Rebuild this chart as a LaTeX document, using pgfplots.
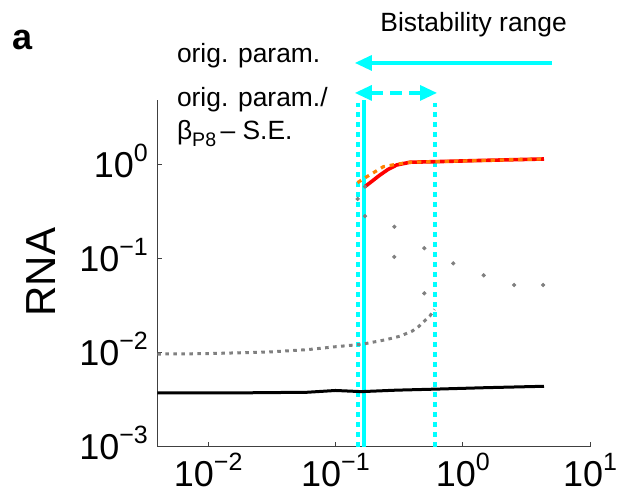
\documentclass[border=0pt]{standalone}
\usepackage{fontspec}
\setmainfont{Liberation Sans}
\usepackage{pgfplots}
\pgfplotsset{compat=1.18}
\usetikzlibrary{arrows.meta}
\definecolor{cyanl}{RGB}{0,255,255}
\definecolor{orangel}{RGB}{255,128,0}
\definecolor{grayl}{RGB}{128,128,128}
\newcommand\sups[1]{\raisebox{8pt}{\fontsize{12.5}{12.5}\selectfont #1}}
\newcommand\dec[1]{10\sups{#1}}

\begin{document}
\begin{tikzpicture}[x=1pt,y=1pt]
\useasboundingbox (0,0) rectangle (312.5,249);
\begin{axis}[
  at={(78.65pt,25.65pt)}, anchor=south west,
  scale only axis, width=216.35pt, height=173.35pt,
  xmode=log, ymode=log,
  xmin=0.003981, xmax=10, ymin=1e-3, ymax=4.92,
  axis x line*=bottom, axis y line*=left,
  axis line style={-, line width=0.5pt, draw=black!75},
  xtick={0.01,0.1,1,10}, xticklabels={\dec{−2},\dec{−1},\dec{0},\dec{1}},
  ytick={0.001,0.01,0.1,1}, yticklabels={\dec{−3},\dec{−2},\dec{−1},\dec{0}},
  xminorticks=false, yminorticks=false,
  tick align=inside, major tick length=2.5pt,
  tick style={line width=0.5pt, black!75},
  ticklabel style={font=\fontsize{18}{18}\selectfont},
  xticklabel style={anchor=north, inner sep=0pt, yshift=-3pt},
  yticklabel style={anchor=base east, inner sep=0pt, xshift=-4.5pt, yshift=-6.45pt},
  clip=false,
]
% bistability bounds
\addplot[cyanl, line width=2.2pt] coordinates {(0.1675,0.001) (0.1675,4.92)};
\addplot[cyanl, line width=2pt, dash pattern=on 2.4pt off 2.6pt] coordinates {(0.149,0.001) (0.149,4.57)};
\addplot[cyanl, line width=2pt, dash pattern=on 2.4pt off 2.6pt] coordinates {(0.603,0.001) (0.603,4.57)};

% low branch, orig. param.
\addplot[black, line width=1.5pt] coordinates {
  (0.00398,0.00375) (0.02,0.00375) (0.06,0.00380) (0.1,0.00397) (0.16,0.00386)
  (0.3,0.00400) (0.6,0.00410) (1.5,0.00425) (4.35,0.00440)
};
% low branch, modified
\addplot[grayl, line width=1.5pt, dash pattern=on 1.8pt off 2.2pt] coordinates {
  (0.00398,0.0097) (0.01,0.0098) (0.03,0.0102) (0.06,0.0108) (0.1,0.0116)
  (0.16,0.0123) (0.25,0.0138) (0.32,0.0150) (0.4,0.0170) (0.45,0.0190)
  (0.5,0.0218) (0.55,0.0245) (0.6,0.0290)
};
% unstable branch samples
\addplot[grayl, only marks, mark=*, mark size=0.85pt, mark options={draw=grayl, fill=grayl}] coordinates {
  (0.1494,0.435) (0.1706,0.286) (0.1706,0.588) (0.290,0.220) (0.290,0.105)
  (0.499,0.130) (0.499,0.043) (0.843,0.0897) (1.46,0.0668) (2.53,0.0527) (4.28,0.0527)
};
% high branch
\addplot[red, line width=1.8pt] coordinates {
  (0.1706,0.588) (0.224,0.783) (0.26,0.90) (0.303,1.0) (0.386,1.07)
  (0.603,1.084) (1.5,1.12) (4.35,1.158)
};
\addplot[orangel, line width=1.6pt, dash pattern=on 2.2pt off 2.4pt] coordinates {
  (0.149,0.648) (0.1706,0.73) (0.238,0.959) (0.303,1.02) (0.386,1.07)
  (0.603,1.084) (1.5,1.12) (4.35,1.158)
};

% bistability range arrows
\draw[cyanl, line width=1.6pt, -{Triangle[length=8.5pt,width=7.5pt]}]
  (axis cs:5.03,12.2) -- (axis cs:0.142,12.2);
\draw[cyanl, line width=1.6pt, dash pattern=on 6pt off 3.5pt,
  {Triangle[length=8.5pt,width=7.5pt]}-{Triangle[length=8.5pt,width=7.5pt]}]
  (axis cs:0.142,5.85) -- (axis cs:0.628,5.85);
\end{axis}

\node[anchor=base west, inner sep=0pt, font=\bfseries\fontsize{18}{18}\selectfont] at (6,224) {a};
\node[rotate=90, inner sep=0pt, font=\fontsize{21}{21}\selectfont] at (20.5,113) {RNA};
\begin{scope}[every node/.style={anchor=base west, inner sep=0pt, font=\fontsize{13.2}{13.2}\selectfont}]
\node at (190,233) {Bistability range};
\node at (88.3,217.5) {orig. param.};
\node at (88.3,195.5) {orig. param./};
\node at (88.3,179) {β\raisebox{-3.5pt}{\fontsize{9.8}{9.8}\selectfont P8}\,– S.E.};
\end{scope}
\end{tikzpicture}
\end{document}
